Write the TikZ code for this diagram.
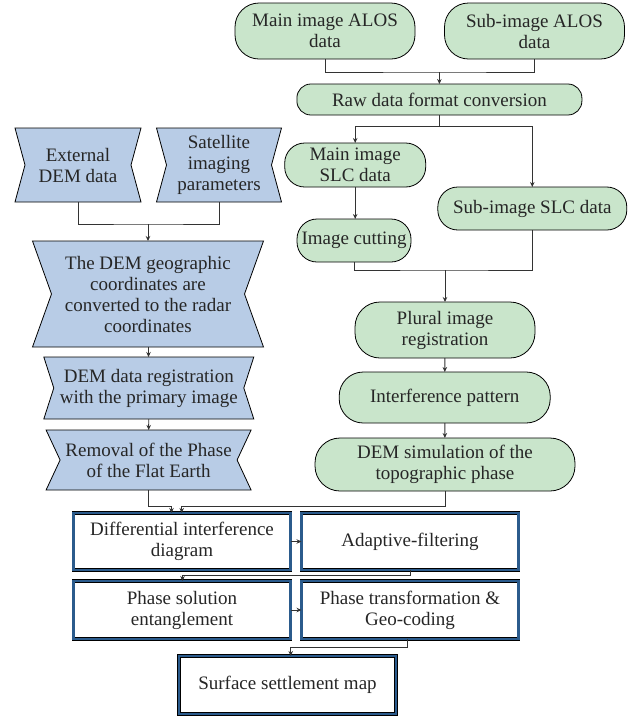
\documentclass[tikz,border=0pt]{standalone}
\usepackage{fontspec}
\setmainfont{Liberation Serif}
\usetikzlibrary{arrows.meta,backgrounds,calc}
\definecolor{gfill}{HTML}{C9E5CB}
\definecolor{bfill}{HTML}{B8CCE6}
\definecolor{dblue}{HTML}{2B5B8C}
\definecolor{lcol}{HTML}{333333}
\begin{document}
\begin{tikzpicture}[x=1pt,y=-1pt,
  every node/.style={font=\fontsize{19}{21}\selectfont, text=black!85, align=center, inner sep=0pt, outer sep=0pt},
  gbox/.style={draw=black, line width=0.8pt, fill=gfill},
  btext/.style={},
  bshape/.style={draw=black, line width=0.8pt, fill=bfill},
  dbox/.style={draw=black, line width=0.5pt, double=dblue, double distance=2.6pt, fill=white},
  conn/.style={draw=lcol, line width=0.9pt},
  arr/.style={conn, -{Stealth[length=5pt,width=4.5pt]}}]
\useasboundingbox (0,0) rectangle (633,716);
% green column
\node[gbox, minimum width=180pt, minimum height=56pt, rounded corners=24pt] (mainalos) at (325,31) {Main image ALOS\\data};
\node[gbox, minimum width=180pt, minimum height=56pt, rounded corners=24pt] (subalos) at (534.5,31) {Sub-image ALOS\\data};
\node[gbox, minimum width=285pt, minimum height=31pt, rounded corners=14pt] (raw) at (439.4,99.5) {Raw data format conversion};
\node[gbox, minimum width=141pt, minimum height=44pt, rounded corners=20pt] (mainslc) at (355.2,165) {Main image\\SLC data};
\node[gbox, minimum width=189pt, minimum height=43pt, rounded corners=20pt] (subslc) at (532.3,208.5) {Sub-image SLC data};
\node[gbox, minimum width=114pt, minimum height=43pt, rounded corners=20pt] (cut) at (354,240.5) {Image cutting};
\node[gbox, minimum width=180pt, minimum height=56pt, rounded corners=25pt] (plural) at (445,330) {Plural image\\registration};
\node[gbox, minimum width=211pt, minimum height=51pt, rounded corners=24pt] (interf) at (444.7,397.5) {Interference pattern};
\node[gbox, minimum width=260pt, minimum height=53pt, rounded corners=25pt] (demsim) at (445,464.5) {DEM simulation of the\\topographic phase};
% blue column
\node[btext, minimum width=126pt, minimum height=74pt] (ext) at (78,165) {External\\DEM data};
\node[btext, minimum width=125pt, minimum height=74pt] (sat) at (219,165) {Satellite\\imaging\\parameters};
\node[btext, minimum width=231pt, minimum height=106pt] (conv) at (148,294) {The DEM geographic\\coordinates are\\converted to the radar\\coordinates};
\node[btext, minimum width=210pt, minimum height=62pt] (reg) at (148.8,388) {DEM data registration\\with the primary image};
\node[btext, minimum width=205pt, minimum height=60pt] (removal) at (148.6,460) {Removal of the Phase\\of the Flat Earth};
\begin{scope}[on background layer]
\foreach \n/\d in {ext/10,sat/10,conv/19,reg/10,removal/14}{
  \draw[bshape] (\n.north west) -- (\n.north east) -- ([xshift=-\d pt]\n.east) -- (\n.south east) -- (\n.south west) -- ([xshift=\d pt]\n.west) -- cycle;
}
\end{scope}
% white boxes
\node[dbox, minimum width=217pt, minimum height=57pt] (diff) at (182,541.5) {Differential interference\\diagram};
\node[dbox, minimum width=217pt, minimum height=57pt] (adapt) at (410,541.5) {Adaptive-filtering};
\node[dbox, minimum width=217pt, minimum height=58pt] (psol) at (182,610) {Phase solution\\entanglement};
\node[dbox, minimum width=217pt, minimum height=58pt] (ptrans) at (410,610) {Phase transformation \&\\Geo-coding};
\node[dbox, minimum width=217pt, minimum height=58pt] (surf) at (287.5,685) {Surface settlement map};
% connectors
\coordinate (j1) at (439.4,72);
\draw[conn] (mainalos.south) |- (j1) -| (subalos.south);
\draw[arr] (j1) -- (raw.north);
\coordinate (j2) at (439.4,126);
\draw[conn] (raw.south) -- (j2);
\draw[arr] (j2) -| (mainslc.north);
\draw[arr] (j2) -| (subslc.north);
\draw[arr] (mainslc.south) -- (mainslc.south |- cut.north);
\coordinate (j3) at (445,270);
\draw[conn] (cut.south) |- (j3) -| (subslc.south);
\draw[arr] (j3) -- (plural.north);
\draw[arr] (plural) -- (interf);
\draw[arr] (interf) -- (demsim);
\coordinate (j4) at (148,224);
\draw[conn] (ext.south) |- (j4) -| (sat.south);
\draw[arr] (j4) -- (conv.north);
\draw[arr] (conv) -- (reg);
\draw[arr] (reg) -- (removal);
\coordinate (k1) at (171.5,506);
\coordinate (k2) at (181.7,506);
\draw[arr] (removal.south) |- (k1) -- (k1 |- diff.north);
\draw[arr] (demsim.south) |- (k2) -- (k2 |- diff.north);
\draw[arr] (diff) -- (adapt);
\coordinate (k3) at (182.5,575);
\draw[arr] (adapt.south) |- (k3) -- (k3 |- psol.north);
\draw[arr] (psol) -- (ptrans);
\coordinate (k4) at (290.7,647);
\draw[arr] ([xshift=-2.5pt]ptrans.south) |- (k4) -- (k4 |- surf.north);
\end{tikzpicture}
\end{document}
